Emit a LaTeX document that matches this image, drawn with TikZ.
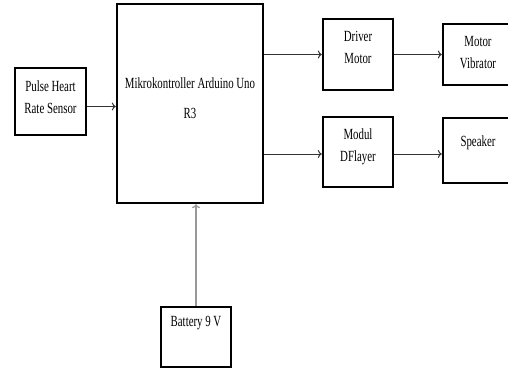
\documentclass[tikz,border=0pt]{standalone}
\usepackage{fontspec}
\setmainfont[FakeStretch=0.7]{Liberation Serif}
\usepackage{xcolor}
\usepackage{tikz}
\usetikzlibrary{arrows.meta, positioning, calc}

\begin{document}
\begin{tikzpicture}[
    x=1pt, y=1pt,
    box/.style={draw, line width=2.4pt, rectangle, inner sep=0pt},
    txt/.style={align=center, font=\fontsize{15.5}{22}\selectfont, inner sep=0pt},
    arrow/.style={line width=1pt, draw=black!80, -{To[length=4pt,width=8pt]}},
    supply/.style={line width=1.3pt, draw=black!40, -{To[length=4pt,width=8pt]}}
]
\clip (0,0) rectangle (508,368);
\fill[white] (0,0) rectangle (508,368);

% blocks
\node[box, minimum width=71, minimum height=67] (pulse) at (50.5,266.5) {};
\node[box, minimum width=146, minimum height=199] (mcu) at (190,264.5) {};
\node[box, minimum width=70, minimum height=71] (driver) at (358,313.5) {};
\node[box, minimum width=70, minimum height=61] (vibrator) at (478,313.5) {};
\node[box, minimum width=70, minimum height=70] (dfplayer) at (358,216) {};
\node[box, minimum width=70, minimum height=65] (speaker) at (478,217.5) {};
\node[box, minimum width=70, minimum height=60] (battery) at (196,31) {};

% texts
\node[txt] (pulse-t) at (50.5,271) {Pulse Heart\\Rate Sensor};
\node[txt, font=\fontsize{15.5}{30}\selectfont] (mcu-t) at (190,270) {Mikrokontroller Arduino Uno\\R3};
\node[txt] (driver-t) at (358,320.5) {Driver\\Motor};
\node[txt] (vibrator-t) at (478,315.5) {Motor\\Vibrator};
\node[txt] (dfplayer-t) at (358,221.5) {Modul\\DFlayer};
\node[txt] (speaker-t) at (478,225) {Speaker};
\node[txt] (battery-t) at (196,45) {Battery 9 V};

% connections
\draw[arrow] ([yshift=-5pt]pulse.east) -- ([yshift=-5pt]pulse.east -| mcu.west);
\draw[arrow] (mcu.east |- driver) -- (driver);
\draw[arrow] ([yshift=-2pt]mcu.east |- dfplayer) -- ([yshift=-2pt]dfplayer.west);
\draw[arrow] (driver) -- (vibrator.west |- driver);
\draw[arrow] ([yshift=-2pt]dfplayer.east) -- ([yshift=-2pt]dfplayer.east -| speaker.west);
\draw[supply] (battery) -- (battery |- mcu.south);
\end{tikzpicture}
\end{document}
